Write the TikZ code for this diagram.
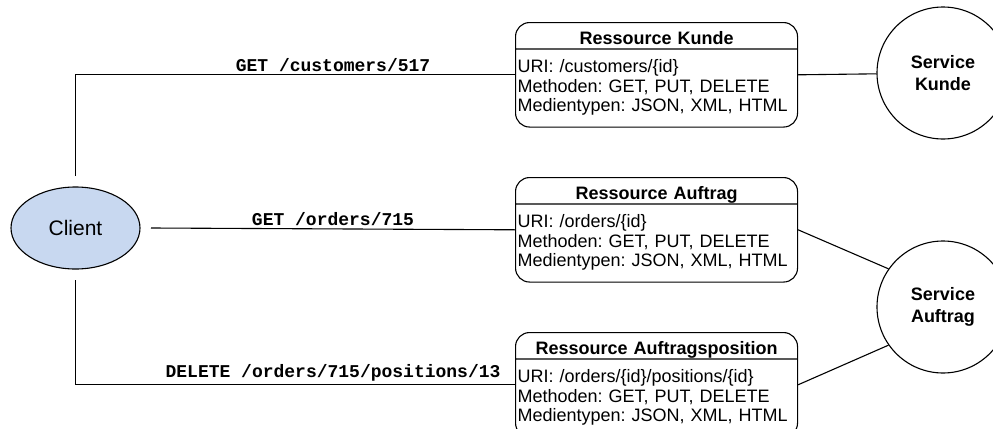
\documentclass[tikz,border=0pt]{standalone}
\usepackage{fontspec}
\setmainfont{Liberation Sans}
\setmonofont{Liberation Mono}
\usetikzlibrary{shapes.geometric,shapes.multipart}
\setlength{\parindent}{0pt}
\frenchspacing
\definecolor{clientblue}{RGB}{200,216,240}
\newcommand{\titlerule}{\rule[-2.05pt]{0pt}{12.65pt}}
\newcommand{\toprule}{\rule{0pt}{11.7pt}}
\newcommand{\botrule}{\rule[-7.3pt]{0pt}{0pt}}

\begin{document}
\begin{tikzpicture}[x=0.5pt,y=-0.5pt,line width=0.55pt,
	client/.style={ellipse,draw,fill=clientblue,minimum width=64.5pt,minimum height=41pt,inner sep=0pt,outer sep=5.5pt,font=\fontsize{10.5}{12}\selectfont},
	res/.style={rectangle split,rectangle split parts=2,draw,rounded corners=7pt,text width=139pt,inner xsep=1pt,inner ysep=0pt,anchor=north west,font=\fontsize{9}{9.75}\selectfont\frenchspacing},
	service/.style={circle,draw,minimum size=66pt,inner sep=0pt,align=center,font=\fontsize{9}{11}\selectfont\bfseries},
	call/.style={above,inner sep=1.5pt,font=\fontsize{9}{10}\selectfont\ttfamily\bfseries}]
			\useasboundingbox (0,0) rectangle (993,429);
			\node[client] (client) at (75.5,228) {Client};

			\node[res] (kunde) at (515,22) {\centerline{\titlerule\textbf{Ressource Kunde}}\nodepart{two}\toprule URI: /customers/\{id\}\\Methoden: GET, PUT, DELETE\\Medientypen: JSON, XML, HTML\botrule};
			\node[res] (auftrag) at (515,177) {\centerline{\titlerule\textbf{Ressource Auftrag}}\nodepart{two}\toprule URI: /orders/\{id\}\\Methoden: GET, PUT, DELETE\\Medientypen: JSON, XML, HTML\botrule};
			\node[res] (position) at (515,332) {\centerline{\titlerule\textbf{Ressource Auftragsposition}}\nodepart{two}\toprule URI: /orders/\{id\}/positions/\{id\}\\Methoden: GET, PUT, DELETE\\Medientypen: JSON, XML, HTML\botrule};

			\node[service] (skunde) at (943,73) {Service\\Kunde};
			\node[service] (sauftrag) at (943,307) {Service\\Auftrag};

			\draw (client.north) |- (kunde.west) node[call,pos=0.793] {GET /customers/517};
			\draw (client.east) -- (auftrag.west) node[call,midway] {GET /orders/715};
			\draw (client.south) |- (position.west) node[call,pos=0.793] {DELETE /orders/715/positions/13};

			\draw (kunde.east) -- (skunde);
			\draw (auftrag.east) -- (sauftrag.145);
			\draw (position.east) -- (sauftrag.215);
\end{tikzpicture}
\end{document}
